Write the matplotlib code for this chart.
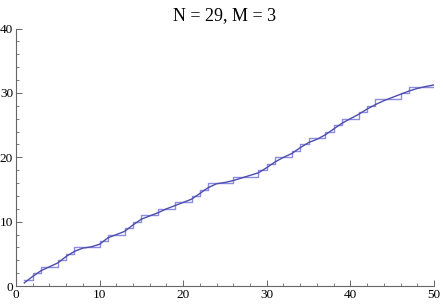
import numpy as np
import matplotlib.pyplot as plt
from matplotlib.ticker import MultipleLocator

plt.rcParams['font.family'] = ['Liberation Serif', 'DejaVu Serif']

# step counts at x = 1..50
xs = np.arange(1, 51)
counts = [1, 2, 3, 3, 4, 5, 6, 6, 6, 7,
          8, 8, 9, 10, 11, 11, 12, 12, 13, 13,
          14, 15, 16, 16, 16, 17, 17, 17, 18, 19,
          20, 20, 21, 22, 23, 23, 24, 25, 26, 26,
          27, 28, 29, 29, 29, 30, 31, 31, 31, 31]

# smooth approximation
cx = np.arange(1, 51)
cy = [0.5, 1.5, 2.4, 3.0, 3.6, 4.6, 5.4, 5.9, 6.1, 6.5,
      7.5, 8.0, 8.5, 9.5, 10.4, 10.9, 11.4, 12.0, 12.5, 13.0,
      13.5, 14.4, 15.3, 15.9, 16.1, 16.4, 16.8, 17.2, 17.6, 18.4,
      19.3, 20.0, 20.6, 21.5, 22.3, 22.8, 23.5, 24.4, 25.3, 26.0,
      26.7, 27.5, 28.2, 28.8, 29.3, 29.8, 30.3, 30.7, 31.0, 31.25]

fig = plt.figure(figsize=(4.43, 3.06), dpi=100)
ax = fig.add_axes([0.036, 0.065, 0.9436, 0.8415])

ax.step(xs, counts, where='post', color=(0.55, 0.55, 0.88), lw=1.0)
ax.plot(cx, cy, color=(0.3, 0.3, 0.68), lw=1.0)

ax.set_xlim(0, 50)
ax.set_ylim(0, 40)
ax.set_title('N = 29, M = 3', fontsize=13, pad=6)

for s in ['top', 'right']:
    ax.spines[s].set_visible(False)
for s in ['left', 'bottom']:
    ax.spines[s].set_color('#666666')
    ax.spines[s].set_linewidth(0.8)

ax.xaxis.set_major_locator(MultipleLocator(10))
ax.xaxis.set_minor_locator(MultipleLocator(2))
ax.yaxis.set_major_locator(MultipleLocator(10))
ax.yaxis.set_minor_locator(MultipleLocator(2))
ax.tick_params(which='major', direction='in', length=4, width=0.7, color='#666666',
               labelsize=9.5, pad=2)
ax.tick_params(which='minor', direction='in', length=2.5, width=0.6, color='#666666')

fig.savefig('out.png', dpi=100)
